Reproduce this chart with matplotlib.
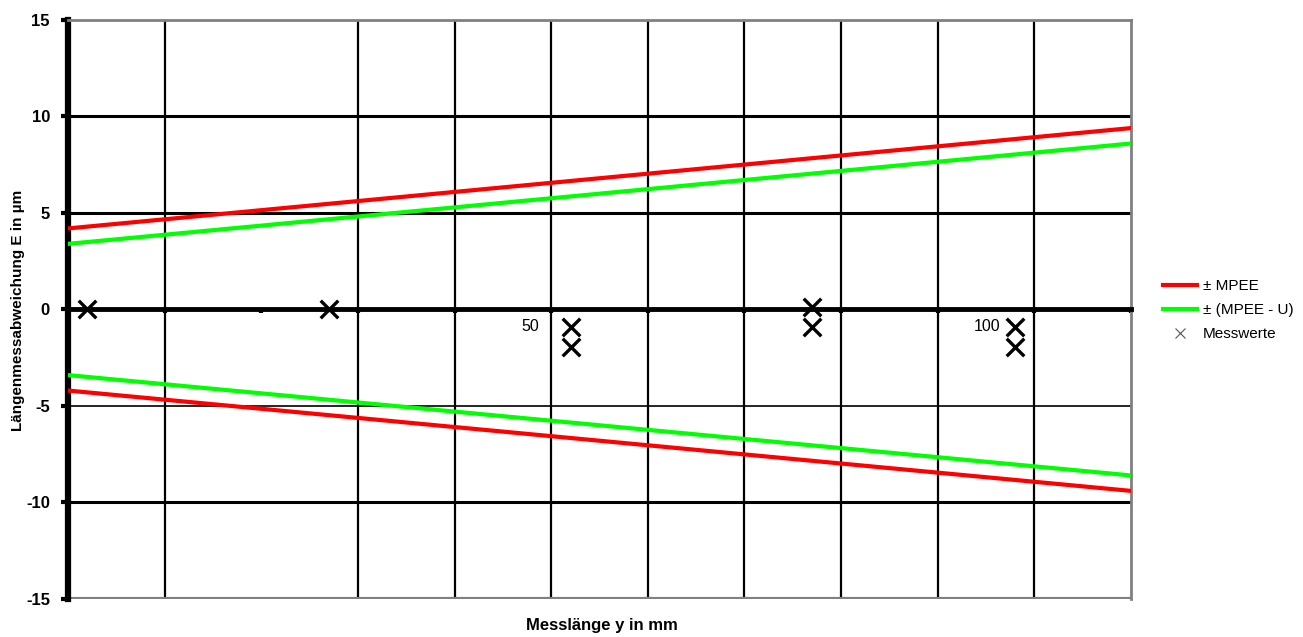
import matplotlib
matplotlib.use("Agg")
import matplotlib.pyplot as plt
from matplotlib.lines import Line2D

plt.rcParams["font.family"] = ["Liberation Sans", "DejaVu Sans"]

# Data
line_x = [0, 110]
mpee = [4.2, 9.4]
mpee_minus_u = [3.4, 8.6]

meas_x = [2, 27, 52, 52, 77, 77, 98, 98]
meas_y = [0.0, 0.0, -0.9, -1.95, 0.15, -0.9, -0.9, -1.95]

y_ticks = [-15, -10, -5, 0, 5, 10, 15]
x_tick_pos = [10, 20, 30, 40, 50, 60, 70, 80, 90, 100, 110]
x_grid = [10, 30, 40, 50, 60, 70, 80, 90, 100]
y_grid = [-10, -5, 5, 10]
x_labels = ["50", "100"]
x_label_at = [47.8, 95.1]

fig = plt.figure(figsize=(13.03, 6.37), dpi=100)
ax = fig.add_axes([0.0522, 0.0597, 0.8158, 0.9089])

for gx in x_grid:
    ax.axvline(gx, color="black", lw=1.6, zorder=1)
for gy in y_grid:
    ax.axhline(gy, color="black", lw=2.2 if gy != -5 else 1.2, zorder=1)
ax.axhline(-15, color="#808080", lw=3, zorder=2)

ax.plot(line_x, mpee, color="#ff0000", lw=3, zorder=3)
ax.plot(line_x, [-v for v in mpee], color="#ff0000", lw=3, zorder=3)
ax.plot(line_x, mpee_minus_u, color="#00ff00", lw=3, zorder=3)
ax.plot(line_x, [-v for v in mpee_minus_u], color="#00ff00", lw=3, zorder=3)
ax.scatter(meas_x, meas_y, marker="x", s=160, color="black", linewidths=2.4, zorder=4)

ax.set_xlim(0, 110)
ax.set_ylim(-15, 15)

ax.spines["bottom"].set_position(("data", 0))
ax.spines["bottom"].set_color("black")
ax.spines["bottom"].set_linewidth(3.5)
ax.spines["left"].set_color("black")
ax.spines["left"].set_linewidth(4.5)
for s in ("top", "right"):
    ax.spines[s].set_color("#808080")
    ax.spines[s].set_linewidth(2)

ax.set_xticks(x_tick_pos)
ax.set_xticklabels([])
ax.tick_params(axis="x", direction="out", length=3, width=3, color="black")
ax.set_yticks(y_ticks)
ax.set_yticklabels([str(t) for t in y_ticks], fontsize=12, fontweight="bold")
ax.tick_params(axis="y", direction="out", length=5, width=3, color="black", pad=8)

for lab, lx in zip(x_labels, x_label_at):
    ax.text(lx, -0.5, lab, ha="center", va="top", fontsize=11.5)

fig.text(0.014, 0.513, "Längenmessabweichung E in µm", rotation=90, ha="center",
         va="center", fontsize=11, fontweight="bold")
fig.text(0.462, 0.018, "Messlänge y in mm", ha="center", va="center",
         fontsize=12, fontweight="bold")

handles = [
    Line2D([], [], color="#ff0000", lw=3),
    Line2D([], [], color="#00ff00", lw=3),
    Line2D([], [], color="#555555", marker="x", ls="none", markersize=7, mew=0.8),
]
fig.legend(handles, ["± MPEE", "± (MPEE - U)", "Messwerte"], loc="center left",
           bbox_to_anchor=(0.882, 0.513), frameon=False, fontsize=11,
           handlelength=2.2, handletextpad=0.4, labelspacing=0.65)

fig.savefig("out.png", dpi=100)
